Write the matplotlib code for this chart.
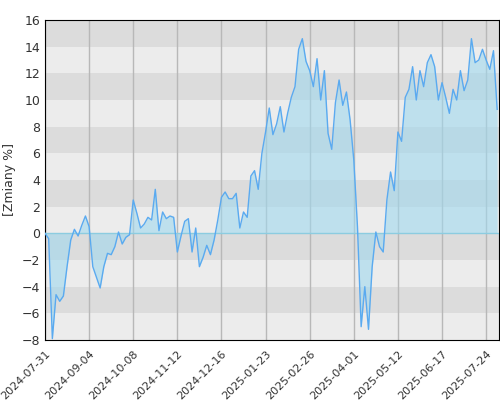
import matplotlib
matplotlib.use("Agg")
import matplotlib.pyplot as plt
import numpy as np

tick_labels = ["2024-07-31", "2024-09-04", "2024-10-08", "2024-11-12", "2024-12-16",
               "2025-01-23", "2025-02-26", "2025-04-01", "2025-05-12", "2025-06-17", "2025-07-24"]
values = [
    0, -0.4, -7.9, -4.6, -5.1, -4.7, -2.5, -0.5, 0.3, -0.2, 0.6, 1.3,
    0.5, -2.5, -3.3, -4.1, -2.5, -1.5, -1.6, -1.0, 0.1, -0.8, -0.3, -0.1,
    2.5, 1.5, 0.4, 0.7, 1.2, 1.0, 3.3, 0.2, 1.6, 1.1, 1.3, 1.2,
    -1.4, -0.2, 0.9, 1.1, -1.4, 0.4, -2.5, -1.8, -0.9, -1.6, -0.5, 1.0,
    2.7, 3.1, 2.6, 2.6, 3.0, 0.4, 1.6, 1.2, 4.3, 4.7, 3.3, 6.0,
    7.6, 9.4, 7.4, 8.2, 9.5, 7.6, 9.0, 10.2, 11.0, 13.8, 14.6, 12.9,
    12.2, 11.0, 13.1, 10.0, 12.2, 7.5, 6.3, 9.8, 11.5, 9.6, 10.6, 8.5,
    5.5, 0.5, -7.0, -4.0, -7.2, -2.5, 0.1, -1.0, -1.4, 2.5, 4.6, 3.2,
    7.6, 6.9, 10.2, 10.8, 12.5, 10.0, 12.2, 11.0, 12.8, 13.4, 12.5, 10.0,
    11.3, 10.2, 9.0, 10.8, 10.0, 12.2, 10.7, 11.5, 14.6, 12.8, 13.0, 13.8,
    13.0, 12.3, 13.7, 9.3,
]
tick_step = 12

x = np.arange(len(values))
y = np.array(values, dtype=float)

fig = plt.figure(figsize=(5, 4), dpi=100)
ax = fig.add_axes([0.09, 0.15, 0.908, 0.80])
ax.set_xlim(0, len(values) - 0.5)
ax.set_ylim(-8, 16)
for lo in range(-8, 16, 2):
    ax.axhspan(lo, lo + 2, color='#ececec' if (lo // 2) % 2 == 0 else '#dcdcdc', zorder=0, lw=0)
ticks = np.arange(0, len(values), tick_step)
for t in ticks:
    ax.axvline(t, color='#b8b8b8', lw=1, zorder=1)
ax.fill_between(x, 0, y, color='#a0d8ee', alpha=0.6, zorder=2, lw=0)
ax.axhline(0, color='#8ccce0', lw=1, zorder=3)
ax.plot(x, y, color='#5aaaf0', lw=1, zorder=4)
ax.set_xticks(ticks)
ax.set_xticklabels(tick_labels, rotation=45, ha='right', va='top', rotation_mode='anchor',
                   fontsize=8, color='#333333')
ax.set_yticks(range(-8, 17, 2))
ax.tick_params(axis='y', labelsize=9, colors='#333333', length=0)
ax.tick_params(axis='x', length=0, pad=6)
ax.set_ylabel('[Zmiany %]', fontsize=9, color='#333333', labelpad=4)
for s in ax.spines.values():
    s.set_color('black')
fig.savefig('out.png', dpi=100)
